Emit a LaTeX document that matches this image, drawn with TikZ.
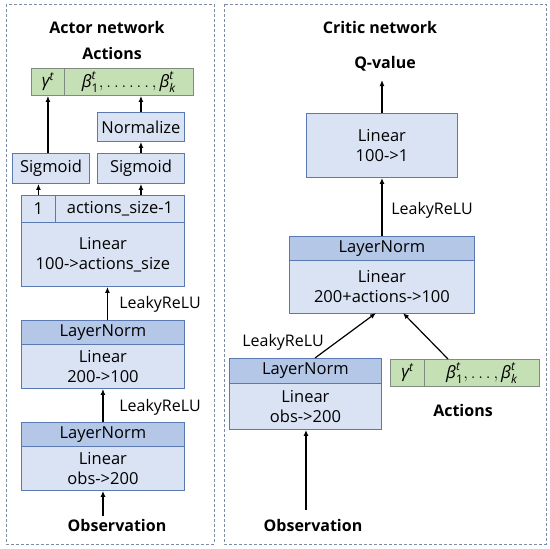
\documentclass[tikz,border=0pt]{standalone}
\usepackage{amsmath}
\usepackage{fontspec}
\setmainfont{Open Sans}
\usetikzlibrary{arrows.meta}
\definecolor{boxfill}{HTML}{DAE3F3}
\definecolor{headfill}{HTML}{B4C7E7}
\definecolor{boxline}{HTML}{5A79B0}
\definecolor{greenfill}{HTML}{C5E0B4}
\definecolor{greenline}{HTML}{808A80}
\definecolor{frameline}{HTML}{7D8CA3}
\newcommand{\gam}{\textit{γ}^{\textit{t}}}
\newcommand{\bet}[1]{\textit{β}_{\text{#1}}^{\textit{t}}}
\tikzset{
  blk/.style={draw=boxline, fill=boxfill, line width=0.9pt, anchor=north west, inner sep=0pt, align=center, font=\fontsize{16.5}{20}\selectfont},
  hdr/.style={blk, fill=headfill},
  grn/.style={draw=greenline, fill=greenfill, line width=0.9pt, anchor=north west, inner sep=0pt, align=center, font=\fontsize{17}{20}\selectfont},
  ttl/.style={font=\fontsize{16}{19}\selectfont\bfseries, inner sep=0pt},
  lbl/.style={font=\fontsize{16}{19}\selectfont, inner sep=0pt},
  arr/.style={-{Latex[length=6pt,width=5pt]}, line width=1.2pt, black},
  frm/.style={draw=frameline, line width=1pt, dash pattern=on 3pt off 2pt}
}
\begin{document}
\begin{tikzpicture}[x=1pt,y=-1pt]
\useasboundingbox (0,0) rectangle (550,549);
% frames
\draw[frm] (6,4) rectangle (214,544);
\draw[frm] (224,4) rectangle (546,544);
% ---------- Actor ----------
\node[ttl] (atitle) at (107,27) {Actor network};
\node[ttl] (aact) at (112,53) {Actions};
\node[grn, minimum width=33pt, minimum height=27pt] (g1a) at (31,68) {$\gam$};
\node[grn, minimum width=129pt, minimum height=27pt] (g1b) at (64,68) {$\bet{1},\ldots\ldots,\bet{\textit{k}}$};
\node[blk, minimum width=87pt, minimum height=29pt] (norm) at (97,112) {Normalize};
\node[blk, minimum width=77pt, minimum height=30pt] (sigL) at (12,153) {Sigmoid};
\node[blk, minimum width=87pt, minimum height=30pt] (sigR) at (97,153) {Sigmoid};
\node[blk, minimum width=34pt, minimum height=27pt] (one) at (21,195) {1};
\node[blk, minimum width=129pt, minimum height=27pt] (asz) at (55,195) {actions\_size-1};
\node[blk, minimum width=163pt, minimum height=64pt] (lin3) at (21,222) {Linear\\100->actions\_size};
\node[hdr, minimum width=163pt, minimum height=24pt] (ln2) at (21,320) {LayerNorm};
\node[blk, minimum width=163pt, minimum height=44pt] (lin2) at (21,344) {Linear\\200->100};
\node[hdr, minimum width=163pt, minimum height=24pt] (ln1) at (21,422) {LayerNorm};
\node[blk, minimum width=163pt, minimum height=44pt] (lin1) at (21,446) {Linear\\obs->200};
\node[ttl] (aobs) at (117,525) {Observation};
\node[lbl] (lr2) at (160,304) {LeakyReLU};
\node[lbl] (lr1) at (160,407) {LeakyReLU};
% actor arrows
\draw[arr] (sigL.north -| g1a.south) -- (g1a.south);
\draw[arr] (one.north) -- (one.north |- sigL.south);
\draw[arr] (sigR.south |- asz.north) -- (sigR.south);
\draw[arr] (sigR.north) -- (norm.south);
\draw[arr] (norm.north) -- (norm.north |- g1b.south);
\draw[arr] ([xshift=4.5pt]ln2.north) -- ([xshift=4.5pt]lin3.south);
\draw[arr] (ln1.north) -- (lin2.south);
\coordinate (aobsT) at (103,516);
\draw[arr] (aobsT) -- (aobsT |- lin1.south);
% ---------- Critic ----------
\node[ttl] (ctitle) at (380,27) {Critic network};
\node[ttl] (qv) at (385,64) {Q-value};
\node[blk, minimum width=151pt, minimum height=64pt] (qlin) at (306,113) {Linear\\100->1};
\node[hdr, minimum width=185pt, minimum height=24pt] (cln) at (289,236) {LayerNorm};
\node[blk, minimum width=185pt, minimum height=53pt] (clin) at (289,260) {Linear\\200+actions->100};
\node[hdr, minimum width=152pt, minimum height=25pt] (oln) at (229,358) {LayerNorm};
\node[blk, minimum width=152pt, minimum height=46pt] (olin) at (229,383) {Linear\\obs->200};
\node[grn, minimum width=34pt, minimum height=27pt] (g2a) at (390,359) {$\gam$};
\node[grn, minimum width=115pt, minimum height=27pt] (g2b) at (424,359) {$\bet{1},\ldots,\bet{\textit{k}}$};
\node[ttl] (cact) at (463,410) {Actions};
\node[ttl] (cobs) at (313,525) {Observation};
\node[lbl] (lr3) at (432,210) {LeakyReLU};
\node[lbl] (lr4) at (283,342) {LeakyReLU};
% critic arrows
\coordinate (qtop) at (382,80);
\draw[arr] (qlin.north -| qtop) -- (qtop);
\draw[arr] (cln.north -| qtop) -- (qlin.south -| qtop);
\coordinate (o1) at (315,358);
\coordinate (o2) at (376,313);
\coordinate (a1) at (448,359);
\coordinate (a2) at (403,313);
\draw[arr] (o1) -- (o2);
\draw[arr] (a1) -- (a2);
\coordinate (cobsT) at (306,510);
\draw[arr] (cobsT) -- (cobsT |- olin.south);
\end{tikzpicture}
\end{document}
